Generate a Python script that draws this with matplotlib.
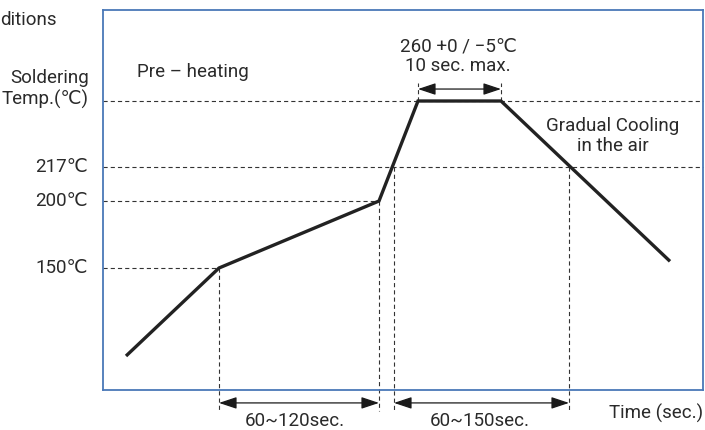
import numpy as np
import matplotlib
matplotlib.use('Agg')
import matplotlib.pyplot as plt

plt.rcParams['font.family'] = ['Roboto', 'DejaVu Sans']
plt.rcParams['lines.scale_dashes'] = False

# ---------------- data (schematic reflow profile) ----------------
profile_time = [23, 116, 276, 315, 398, 567]        # schematic time units
profile_temp = [25, 150, 200, 260, 260, 155]        # ℃

ref_temps = [150, 200, 217, 260]
ref_labels = ['150℃', '200℃', '217℃', 'Soldering\nTemp.(℃)']
ref_line_end = [116, 276, 600, 600]                 # time where each guide ends

preheat_span = [116, 276]
preheat_label = '60~120sec.'
liquidus_span = [291, 466]
liquidus_label = '60~150sec.'
peak_span = [315, 398]
peak_label = '260 +0 / −5℃\n10 sec. max.'

# schematic (non-linear) temperature axis breakpoints
scale_temp = [-100, 25, 150, 200, 217, 260, 400]
scale_level = [-54, 34, 122, 189, 223, 289, 504]

def fwd(t):
    return np.interp(t, scale_temp, scale_level)

def inv(u):
    return np.interp(u, scale_level, scale_temp)

# ---------------- figure ----------------
W, H = 705, 430
fig = plt.figure(figsize=(W / 100, H / 100), dpi=100)

def fx(x):
    return x / W

def fy(y):
    return 1 - y / H

ax = fig.add_axes([fx(103), fy(390), (703 - 103) / W, (390 - 10) / H])
ax.set_yscale('function', functions=(fwd, inv))
ax.set_xlim(0, 600)
ax.set_ylim(inv(0), inv(380))
ax.set_xticks([])
ax.set_yticks([])
ax.minorticks_off()
frame_col = '#4a78b8'
for s in ax.spines.values():
    s.set_color(frame_col)
    s.set_linewidth(1.3)

dash = (0, (3.0, 2.2))
guide_col = '#333333'
gw = 0.8

# horizontal guides
for T, end in zip(ref_temps, ref_line_end):
    ax.plot([0, end], [T, T], color=guide_col, lw=gw, ls=dash, clip_on=False)

def yfrac_to_temp(f):
    return inv(f * 380)

y_bot = yfrac_to_temp(-0.055)

# vertical guides
for t, T in [(preheat_span[0], 150), (preheat_span[1], 200),
             (liquidus_span[0], 217), (liquidus_span[1], 217)]:
    ax.plot([t, t], [T, y_bot], color=guide_col, lw=gw, ls=dash, clip_on=False)

# peak ticks
for t in peak_span:
    ax.plot([t, t], [260, yfrac_to_temp(0.808)], color=guide_col, lw=gw, ls=dash, clip_on=False)

# profile
ax.plot(profile_time, profile_temp, color='#222222', lw=2.4,
        solid_capstyle='butt', solid_joinstyle='miter', zorder=5)

arrow_kw = dict(arrowstyle='<|-|>,head_length=0.9,head_width=0.3', color='#1a1a1a', lw=0.9,
                mutation_scale=12, shrinkA=0, shrinkB=0)

# peak arrow
ax.annotate('', xy=(peak_span[0], 0.792), xytext=(peak_span[1], 0.792),
            xycoords=('data', 'axes fraction'), textcoords=('data', 'axes fraction'),
            arrowprops=arrow_kw, annotation_clip=False)

# bottom arrows
for span in (preheat_span, liquidus_span):
    ax.annotate('', xy=(span[0], -0.034), xytext=(span[1], -0.034),
                xycoords=('data', 'axes fraction'), textcoords=('data', 'axes fraction'),
                arrowprops=arrow_kw, annotation_clip=False)

txt_col = '#2a2a2a'
fs = 13.5

# y-level labels
for T, lab in zip(ref_temps, ref_labels):
    if T == 260:
        fig.text(fx(89), fy(89), lab, ha='right', va='center', fontsize=fs,
                 color=txt_col, linespacing=1.2)
    else:
        ax.text(-0.025, T, lab, transform=ax.get_yaxis_transform(), ha='right',
                va='center', fontsize=fs, color=txt_col)

# annotations
fig.text(fx(0), fy(20), 'ditions', ha='left', va='center', fontsize=fs, color=txt_col)
fig.text(fx(137), fy(72), 'Pre – heating', ha='left', va='center', fontsize=fs, color=txt_col)
fig.text(fx(458), fy(56), peak_label, ha='center', va='center', fontsize=fs,
         color=txt_col, linespacing=1.1)
fig.text(fx(613), fy(136), 'Gradual Cooling\nin the air', ha='center', va='center',
         fontsize=fs, color=txt_col, linespacing=1.15)
fig.text(fx(np.mean(preheat_span) + 103 - 4), fy(421), preheat_label, ha='center',
         va='center', fontsize=fs, color=txt_col)
fig.text(fx(np.mean(liquidus_span) + 103 - 2), fy(421), liquidus_label, ha='center',
         va='center', fontsize=fs, color=txt_col)
fig.text(fx(703), fy(413), 'Time (sec.)', ha='right', va='center', fontsize=fs, color=txt_col)

fig.savefig('out.png', dpi=100)
